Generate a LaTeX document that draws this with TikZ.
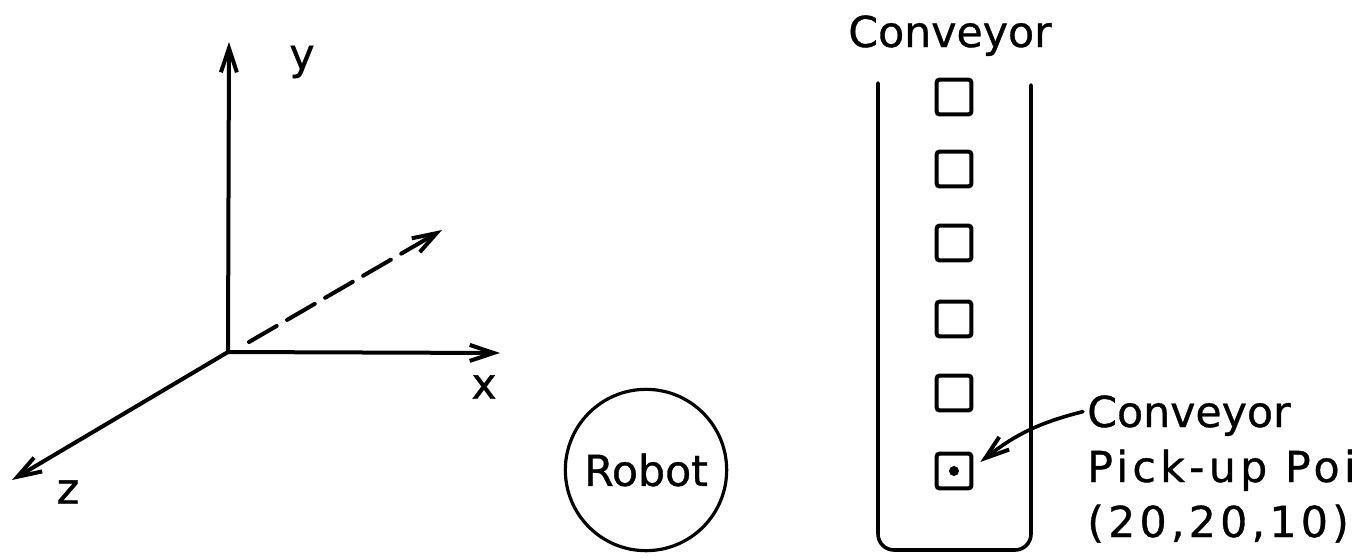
\documentclass[tikz,border=0pt]{standalone}
\usepackage{fontspec}
\setmainfont{DejaVu Sans}[FakeBold=0.8]
\usepackage{tikz}
\usetikzlibrary{arrows.meta,positioning,calc}

\tikzset{
  axis/.style={line width=3pt,line cap=round,-{Straight Barb[length=18pt,width=12pt,line width=3pt]}},
  belt/.style={line width=2.7pt,line cap=round,rounded corners=12pt},
  part/.style={draw,line width=3pt,rounded corners=2pt,minimum size=26pt,inner sep=0pt},
  spot/.style={circle,fill,minimum size=7.5pt,inner sep=0pt},
  lbl/.style={inner sep=0pt},
  wide/.style={font=\fontsize{32}{38}\selectfont\addfontfeature{LetterSpace=10}}
}

\begin{document}
\begin{tikzpicture}[x=0.75pt,y=-0.75pt,font=\fontsize{32}{38}\selectfont]
\useasboundingbox (0,0) rectangle (1360,557);

% coordinate axes
\coordinate (O) at (228,352);
\coordinate (Y) at (229,42);
\coordinate (X) at (500,353);
\coordinate (Z) at (12,480);
\coordinate (D0) at (249,342);
\coordinate (D1) at (442,230);
\draw[axis] (O) -- (Y);
\draw[axis] (O) -- (X);
\draw[axis] (O) -- (Z);
\draw[axis,dash pattern=on 24pt off 9pt] (D0) -- (D1);
\node[lbl] (ylab) at (302,62) {y};
\node[lbl] (xlab) at (484,387) {x};
\node[lbl] (zlab) at (68,492) {z};

% robot
\node[draw,circle,line width=2.4pt,minimum size=121pt,inner sep=0pt] (robot) at (646,470) {Robot};

% conveyor
\coordinate (BL) at (878,83);
\coordinate (BR) at (1031,85);
\draw[belt] (BL) -- (878,550) -- (1031,550) -- (BR);
\node[lbl,anchor=base] (title) at (950,47) {Conveyor};
\foreach \i/\y in {1/97,2/169,3/243,4/319,5/393,6/471}
  \node[part] (p\i) at (954,\y) {};
\node[spot] (pick) at (p6.center) {};

% pick-up label
\node[lbl,anchor=base west] (ppt1) at (1087,427) {Conveyor};
\node[lbl,wide,anchor=base west] (ppt2) at (1087,482) {Pick-up Poi};
\node[lbl,wide,anchor=base west] (ppt3) at (1087,537) {(20,20,10)};
\draw[axis,line width=2.7pt] ($(ppt1.west)+(-4,-4)$) to[bend right=12] ($(p6.east)+(7,-9)$);
\end{tikzpicture}
\end{document}
